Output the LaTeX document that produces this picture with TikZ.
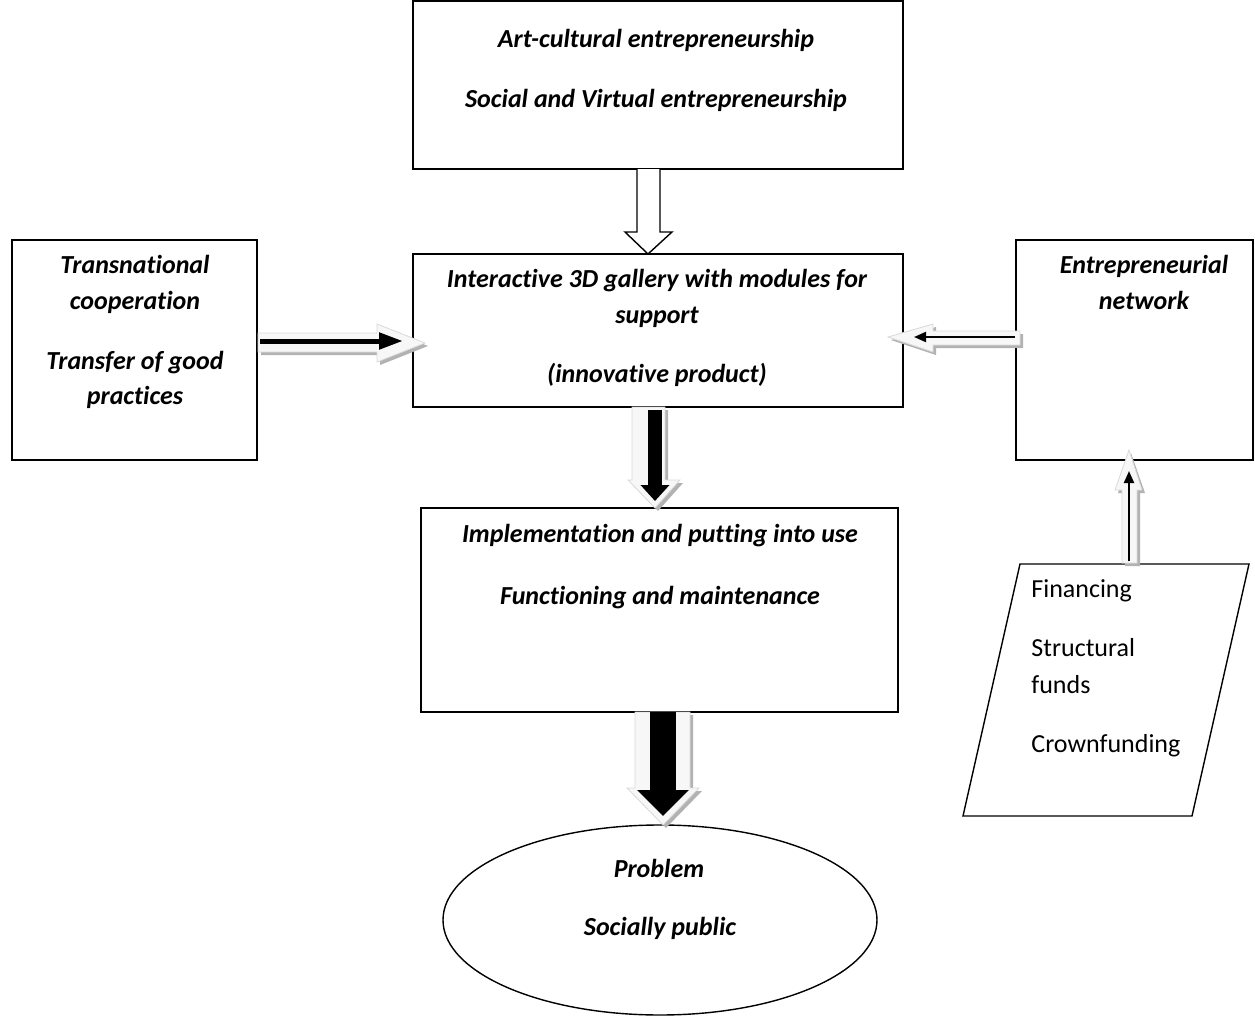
\documentclass[tikz,border=0pt]{standalone}
\usepackage{fontspec}
\setmainfont{Carlito}[Ligatures=NoCommon]
\usetikzlibrary{arrows.meta,shapes.geometric}
\begin{document}
\begin{tikzpicture}[x=0.5pt,y=-0.5pt,
  box/.style={draw,line width=0.7pt,rectangle,inner sep=0pt},
  bi/.style={font=\fontsize{13}{15}\selectfont\bfseries\itshape,inner sep=0pt,anchor=base},
  rg/.style={font=\fontsize{13}{15}\selectfont,inner sep=0pt,anchor=base west},
  blk/.style={fill=gray!6,draw=gray!30,line width=0.4pt},
  shd/.style={fill=gray!60},
  hollow/.style={fill=white,draw=black,line width=0.7pt}]
\useasboundingbox (0,0) rectangle (1255,1017);
% boxes
\node[box,minimum width=245pt,minimum height=84pt] (top) at (658,85) {};
\node[box,minimum width=245pt,minimum height=76.5pt] (mid) at (658,330.5) {};
\node[box,minimum width=122.5pt,minimum height=110pt] (left) at (134.5,350) {};
\node[box,minimum width=118.5pt,minimum height=110pt] (right) at (1134.5,350) {};
\node[box,minimum width=238.5pt,minimum height=102pt] (impl) at (659.5,610) {};
\node[draw,line width=0.7pt,ellipse,minimum width=217pt,minimum height=95pt,inner sep=0pt] (prob) at (660,920) {};
\coordinate (p1) at (1020,564);
\coordinate (p2) at (1249,564);
\coordinate (p3) at (1192,816);
\coordinate (p4) at (963,816);
\draw[line width=0.7pt] (p1) -- (p2) -- (p3) -- (p4) -- cycle;
% texts
\node[bi] at (656,47) {Art-cultural entrepreneurship};
\node[bi] at (656,107) {Social and Virtual entrepreneurship};
\node[bi] at (657,287) {Interactive 3D gallery with modules for};
\node[bi] at (657,323) {support};
\node[bi] at (657,382) {(innovative product)};
\node[bi] at (135,273) {Transnational};
\node[bi] at (135,309) {cooperation};
\node[bi] at (135,369) {Transfer of good};
\node[bi] at (135,404) {practices};
\node[bi] at (1144,273) {Entrepreneurial};
\node[bi] at (1144,309) {network};
\node[bi] at (660,542) {Implementation and putting into use};
\node[bi] at (660,604) {Functioning and maintenance};
\node[bi] at (659,877) {Problem};
\node[bi] at (660,935) {Socially public};
\node[rg] at (1031,597) {Financing};
\node[rg] at (1031,656) {Structural};
\node[rg] at (1031,693) {funds};
\node[rg] at (1031,752) {Crownfunding};
% hollow arrow top -> mid
\draw[hollow] (637,169) -- (637,232) -- (625,232) -- (648,254) -- (672,232) -- (660,232) -- (660,169);
% left block arrow
\fill[shd] (261,336) -- (380,336) -- (380,327) -- (428,346) -- (380,365) -- (380,355) -- (261,355) -- cycle;
\draw[blk] (258,333) -- (377,333) -- (377,324) -- (425,343) -- (377,362) -- (377,352) -- (258,352) -- cycle;
\coordinate (la) at (260,341);
\coordinate (lb) at (403,341);
\draw[line width=2.5pt,-{Triangle[length=12pt,width=8pt]}] (la) -- (lb);
% right block arrow
\fill[shd] (1023,334) -- (936,334) -- (936,327) -- (891,340) -- (936,355) -- (936,348) -- (1023,348) -- cycle;
\draw[blk] (1020,331) -- (933,331) -- (933,324) -- (888,337) -- (933,352) -- (933,345) -- (1020,345) -- cycle;
\coordinate (ra) at (1015,337);
\coordinate (rb) at (914,337);
\draw[line width=1pt,-{Triangle[length=6pt,width=5pt]}] (ra) -- (rb);
% centre down block arrow
\fill[shd] (635,410) -- (668,410) -- (668,483) -- (683,483) -- (658,511) -- (631,483) -- (635,483) -- cycle;
\draw[blk] (632,407) -- (665,407) -- (665,480) -- (680,480) -- (655,508) -- (628,480) -- (632,480) -- cycle;
\coordinate (ca) at (655,410);
\coordinate (cb) at (655,501);
\draw[line width=7pt,-{Triangle[length=8pt,width=14pt]}] (ca) -- (cb);
% bottom down block arrow
\fill[shd] (638,715) -- (693,715) -- (693,791) -- (702,791) -- (666,828) -- (630,791) -- (638,791) -- cycle;
\draw[blk] (635,712) -- (690,712) -- (690,788) -- (699,788) -- (663,825) -- (627,788) -- (635,788) -- cycle;
\coordinate (ba) at (663,712);
\coordinate (bb) at (663,816);
\draw[line width=13pt,-{Triangle[length=13pt,width=25pt]}] (ba) -- (bb);
% up block arrow (financing -> network)
\fill[shd] (1125,566) -- (1140,566) -- (1140,493) -- (1145,493) -- (1131,453) -- (1118,493) -- (1125,493) -- cycle;
\draw[blk] (1122,563) -- (1137,563) -- (1137,490) -- (1142,490) -- (1129,450) -- (1115,490) -- (1122,490) -- cycle;
\coordinate (ua) at (1129,561);
\coordinate (ub) at (1129,471);
\draw[line width=1pt,-{Triangle[length=6pt,width=5pt]}] (ua) -- (ub);
\end{tikzpicture}
\end{document}
